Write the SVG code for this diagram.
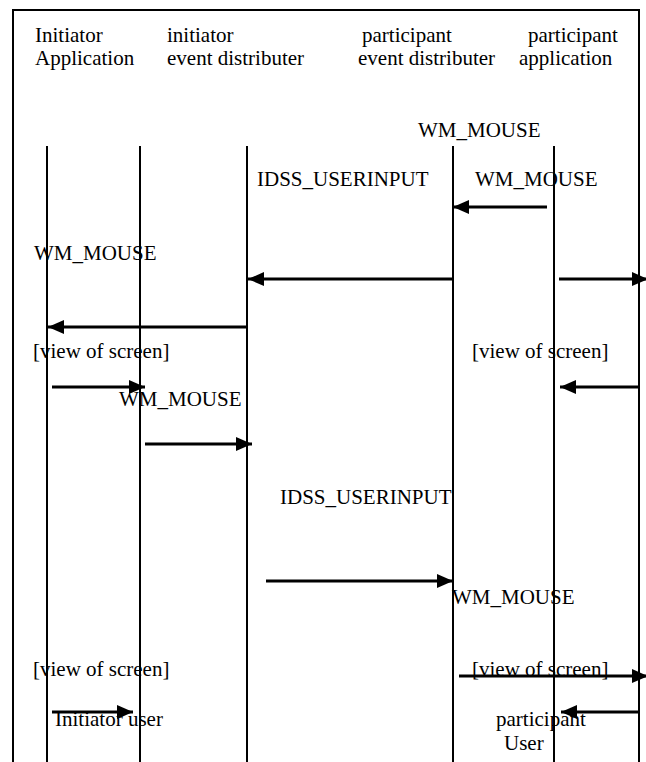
<svg xmlns="http://www.w3.org/2000/svg" width="646" height="762" viewBox="0 0 646 762">
<style>
  text { font-family: "Liberation Serif", Tinos, "DejaVu Serif", serif; font-size: 21px; fill: #000; }
  .frame { fill: none; stroke: #000; stroke-width: 2; }
  .life { stroke: #000; stroke-width: 2; }
  .msg { stroke: #000; stroke-width: 3; fill: none; marker-end: url(#ah); }
</style>
<defs>
  <marker id="ah" markerUnits="userSpaceOnUse" markerWidth="16" markerHeight="14" refX="16" refY="7" orient="auto">
    <path d="M0,0 L16,7 L0,14 z" fill="#000"/>
  </marker>
</defs>
<rect width="646" height="762" fill="#fff"/>
<path class="frame" d="M13,762 V10 H639 V762"/>

<g id="initiator-application">
  <text x="35" y="42">Initiator</text>
  <text x="35" y="65">Application</text>
  <line class="life" x1="47" y1="146" x2="47" y2="762"/>
</g>
<g id="initiator-event-distributer">
  <text x="167" y="42">initiator</text>
  <text x="167" y="65">event distributer</text>
  <line class="life" x1="140" y1="146" x2="140" y2="762"/>
  <line class="life" x1="247" y1="146" x2="247" y2="762"/>
</g>
<g id="participant-event-distributer">
  <text x="362" y="42">participant</text>
  <text x="358" y="65">event distributer</text>
  <line class="life" x1="453" y1="146" x2="453" y2="762"/>
</g>
<g id="participant-application">
  <text x="528" y="42">participant</text>
  <text x="519" y="65">application</text>
  <line class="life" x1="554" y1="146" x2="554" y2="762"/>
</g>

<g id="labels">
  <text x="418" y="137">WM_MOUSE</text>
  <text x="257" y="186">IDSS_USERINPUT</text>
  <text x="475" y="186">WM_MOUSE</text>
  <text x="34" y="260">WM_MOUSE</text>
  <text x="33" y="358">[view of screen]</text>
  <text x="472" y="358">[view of screen]</text>
  <text x="119" y="406">WM_MOUSE</text>
  <text x="280" y="504">IDSS_USERINPUT</text>
  <text x="452" y="604">WM_MOUSE</text>
  <text x="33" y="676">[view of screen]</text>
  <text x="472" y="676">[view of screen]</text>
  <text x="55" y="726">Initiator user</text>
  <text x="496" y="726">participant</text>
  <text x="504" y="750">User</text>
</g>

<g id="connectors">
  <line class="msg" x1="547" y1="207" x2="453" y2="207"/>
  <line class="msg" x1="453" y1="279" x2="248" y2="279"/>
  <line class="msg" x1="559" y1="279" x2="648" y2="279"/>
  <line class="msg" x1="248" y1="327" x2="48" y2="327"/>
  <line class="msg" x1="52" y1="387" x2="145" y2="387"/>
  <line class="msg" x1="639" y1="387" x2="560" y2="387"/>
  <line class="msg" x1="145" y1="444" x2="252" y2="444"/>
  <line class="msg" x1="266" y1="581" x2="453" y2="581"/>
  <line class="msg" x1="459" y1="676" x2="648" y2="676"/>
  <line class="msg" x1="52" y1="712" x2="133" y2="712"/>
  <line class="msg" x1="639" y1="712" x2="561" y2="712"/>
</g>
</svg>
